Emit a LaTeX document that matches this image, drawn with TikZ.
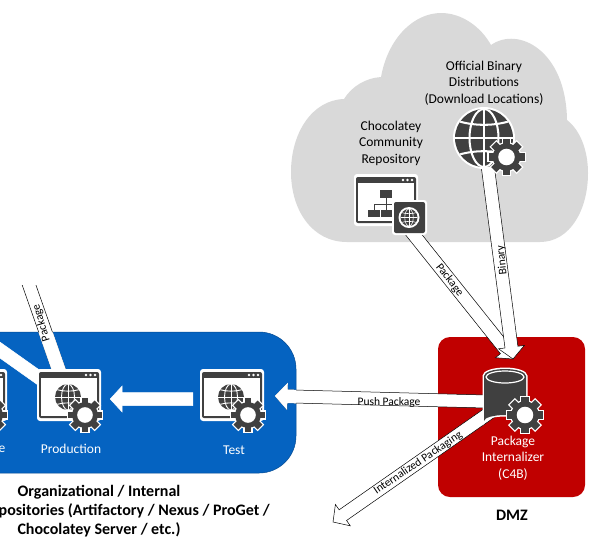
\documentclass[tikz,border=0pt]{standalone}
\usepackage{fontspec}
\setmainfont{Carlito}
\usetikzlibrary{calc}
\definecolor{cloudgray}{RGB}{217,217,217}
\definecolor{repoblue}{RGB}{5,99,193}
\definecolor{dmzred}{RGB}{192,0,0}
\definecolor{icondark}{RGB}{64,64,64}

\tikzset{
    iconbox/.style={minimum width=78pt, minimum height=56pt, inner sep=0pt},
    blabel/.style={font=\fontsize{13.5}{16.5}\selectfont, align=center, text=black},
    wlabel/.style={font=\fontsize{13.5}{16.5}\selectfont, align=center, text=white},
    hlabel/.style={font=\fontsize{16}{19}\selectfont\bfseries, text=black, inner sep=0pt},
    alabel/.style={font=\fontsize{11.5}{12}\selectfont, inner sep=0pt, text=black},
    blockarrow/.style={draw=black, fill=white, line width=0.5pt, line join=miter, to path={
        ($(\tikztostart)!6.5pt!90:(\tikztotarget)$)
        -- ($(\tikztotarget)!12pt!(\tikztostart)!6.5pt!90:(\tikztotarget)$)
        -- ($(\tikztotarget)!12pt!(\tikztostart)!13pt!90:(\tikztotarget)$)
        -- ($(\tikztotarget)$)
        -- ($(\tikztotarget)!12pt!(\tikztostart)!13pt!-90:(\tikztotarget)$)
        -- ($(\tikztotarget)!12pt!(\tikztostart)!6.5pt!-90:(\tikztotarget)$)
        -- ($(\tikztostart)!6.5pt!-90:(\tikztotarget)$) -- cycle}},
    whitearrow/.style={blockarrow, draw=white}
}

% gear: centre, outer radius
\newcommand{\gearglyph}[2]{
    \foreach \a in {0,45,...,315} {
        \filldraw[white, line width=2.5pt, shift={(#1)}, rotate=\a] (-.2*#2,.6*#2) rectangle (.2*#2,#2);
    }
    \filldraw[white, line width=2.5pt] (#1) circle (.76*#2);
    \foreach \a in {0,45,...,315} {
        \fill[icondark, shift={(#1)}, rotate=\a] (-.2*#2,.6*#2) rectangle (.2*#2,#2);
    }
    \fill[icondark] (#1) circle (.76*#2);
    \fill[white] (#1) circle (.46*#2);
}

% globe: centre, radius
\newcommand{\globeglyph}[2]{
    \fill[white] (#1) circle (#2+2);
    \fill[icondark] (#1) circle (#2);
    \begin{scope}[shift={(#1)}, white, line width=.07*#2]
        \clip (0,0) circle (#2);
        \draw (0,-#2) -- (0,#2);
        \draw (-#2,0) -- (#2,0);
        \draw (0,0) ellipse (.5*#2 and #2);
        \draw (-#2,-.62*#2) .. controls (-.4*#2,-.4*#2) and (.4*#2,-.4*#2) .. (#2,-.62*#2);
        \draw (-#2,.62*#2) .. controls (-.4*#2,.4*#2) and (.4*#2,.4*#2) .. (#2,.62*#2);
    \end{scope}
}

% browser window: centre
\newcommand{\windowglyph}[1]{
    \begin{scope}[shift={(#1)}]
        \fill[white, rounded corners=3pt] (-32,-26) rectangle (32,26);
        \fill[icondark, rounded corners=2pt] (-30,-23) rectangle (30,23);
        \fill[white] (-28,-17) rectangle (28,21);
        \foreach \x in {17,21.5,26} {
            \fill[white] (\x,-20) circle (1.3);
        }
    \end{scope}
}

\begin{document}
\begin{tikzpicture}[x=1pt, y=-1pt]
    \useasboundingbox (0,0) rectangle (604,550);
    \clip (0,0) rectangle (604,550);

    % Cloud
    \fill[cloudgray] (347,242) .. controls (312,242) and (291,210) .. (291,172)
        .. controls (291,133) and (312,100) .. (344,99)
        .. controls (352,86) and (366,78) .. (381,77)
        .. controls (388,38) and (414,13) .. (441,13)
        .. controls (462,13) and (481,27) .. (491,45)
        .. controls (518,26) and (566,50) .. (567,120)
        .. controls (580,130) and (588,150) .. (588,173)
        .. controls (588,210) and (570,242) .. (540,242) -- cycle;

    % Boxes
    \filldraw[fill=repoblue, draw=repoblue!75!black, line width=0.5pt, rounded corners=37pt] (-60,332) rectangle (296,473);
    \fill[dmzred, rounded corners=12pt] (438,337) rectangle (585,497);

    % Icon positions
    \node[iconbox] (partial) at (-25,399) {};
    \node[iconbox] (production) at (69,399) {};
    \node[iconbox] (test) at (232,399) {};
    \node[iconbox] (community) at (386,200) {};
    \node[minimum size=58pt, inner sep=0pt] (binary) at (484,138) {};
    \node[minimum size=48pt, inner sep=0pt] (internalizer) at (505,402) {};
    \coordinate (upperleft) at (-10,343);
    \coordinate (uppertop) at (28,282);
    \coordinate (dmzin) at (513,359);
    \coordinate (outside) at (333,522);

    % Arrows
    \draw[blockarrow] (community) to (dmzin);
    \draw[blockarrow] (binary) to (dmzin);
    \draw[blockarrow] (internalizer) to (outside);
    \draw[blockarrow] (internalizer) to ([xshift=4pt,yshift=3pt]test.east);
    \draw[blockarrow] (uppertop) to (production);
    \fill[white] (0,270) rectangle (60,285);
    \begin{scope}
        \clip[rounded corners=37pt] (-60,332.3) rectangle (296,473);
        \draw[whitearrow] (internalizer) to ([xshift=4pt,yshift=3pt]test.east);
        \draw[whitearrow] (uppertop) to (production);
    \end{scope}
    \draw[whitearrow] (upperleft) to (production);
    \draw[whitearrow] (test.west) to ([xshift=2pt]production.east);

    % Arrow labels
    \node[alabel, rotate=-52] (pkglabel) at (449.5,280) {Package};
    \node[alabel, rotate=96] (binlabel) at (502,260) {Binary};
    \node[alabel] (pushlabel) at (389,402) {Push Package};
    \node[alabel, rotate=34] (intlabel) at (418,463) {Internalized Packaging};
    \node[alabel, rotate=107] (prodlabel) at (41.5,323) {Package};

    % Cloud icons
    \windowglyph{community}
    \fill[icondark] (380,190) rectangle (392,198);
    \fill[icondark] (368,210) rectangle (380,217);
    \fill[icondark] (381,210) rectangle (392,217);
    \draw[icondark, line width=1pt] (386,198) -- (386,210) (374,210) -- (374,204) -- (398,204) -- (398,210);
    \fill[white, rounded corners=3pt] (392,200) rectangle (427,235);
    \fill[icondark, rounded corners=2pt] (394,202) rectangle (425,233);
    \globeglyph{409,217.5}{8.5}
    \globeglyph{binary}{29}
    \gearglyph{506.5,157}{18}

    % Repository icons
    \windowglyph{-25,395}
    \globeglyph{-26,397}{13}
    \gearglyph{-10,415}{17}
    \windowglyph{69,395}
    \globeglyph{68,397}{13}
    \gearglyph{85,415}{17}
    \windowglyph{232,395}
    \globeglyph{231,397}{13}
    \gearglyph{248,415}{17}

    % Internalizer icon
    \filldraw[white, line width=3pt] (484,376) -- (484,421) arc[start angle=180, end angle=360, x radius=21, y radius=6] -- (526,376) arc[start angle=0, end angle=-180, x radius=21, y radius=7] -- cycle;
    \fill[icondark] (484,376) -- (484,421) arc[start angle=180, end angle=360, x radius=21, y radius=6] -- (526,376) arc[start angle=0, end angle=-180, x radius=21, y radius=7] -- cycle;
    \draw[white, line width=1.2pt] (505,377) ellipse (19 and 6);
    \gearglyph{525,415}{18}

    % Text
    \node[blabel] (officialtext) at (484,83) {Official Binary\\Distributions\\(Download Locations)};
    \node[blabel] (communitytext) at (391,143) {Chocolatey\\Community\\Repository};
    \node[wlabel] (partialtext) at (2,449) {e};
    \node[wlabel] (productiontext) at (71,449) {Production};
    \node[wlabel] (testtext) at (234,450) {Test};
    \node[wlabel] (internalizertext) at (513,458) {Package\\Internalizer\\(C4B)};
    \node[hlabel] (dmztext) at (512,515) {DMZ};
    \node[hlabel, anchor=base] (repoline) at (99,496.5) {Organizational / Internal};
    \node[hlabel, anchor=base east] (toolline) at (270,515.5) {positories (Artifactory / Nexus / ProGet /};
    \node[hlabel, anchor=base] (serverline) at (99,534.5) {Chocolatey Server / etc.)};
\end{tikzpicture}
\end{document}
